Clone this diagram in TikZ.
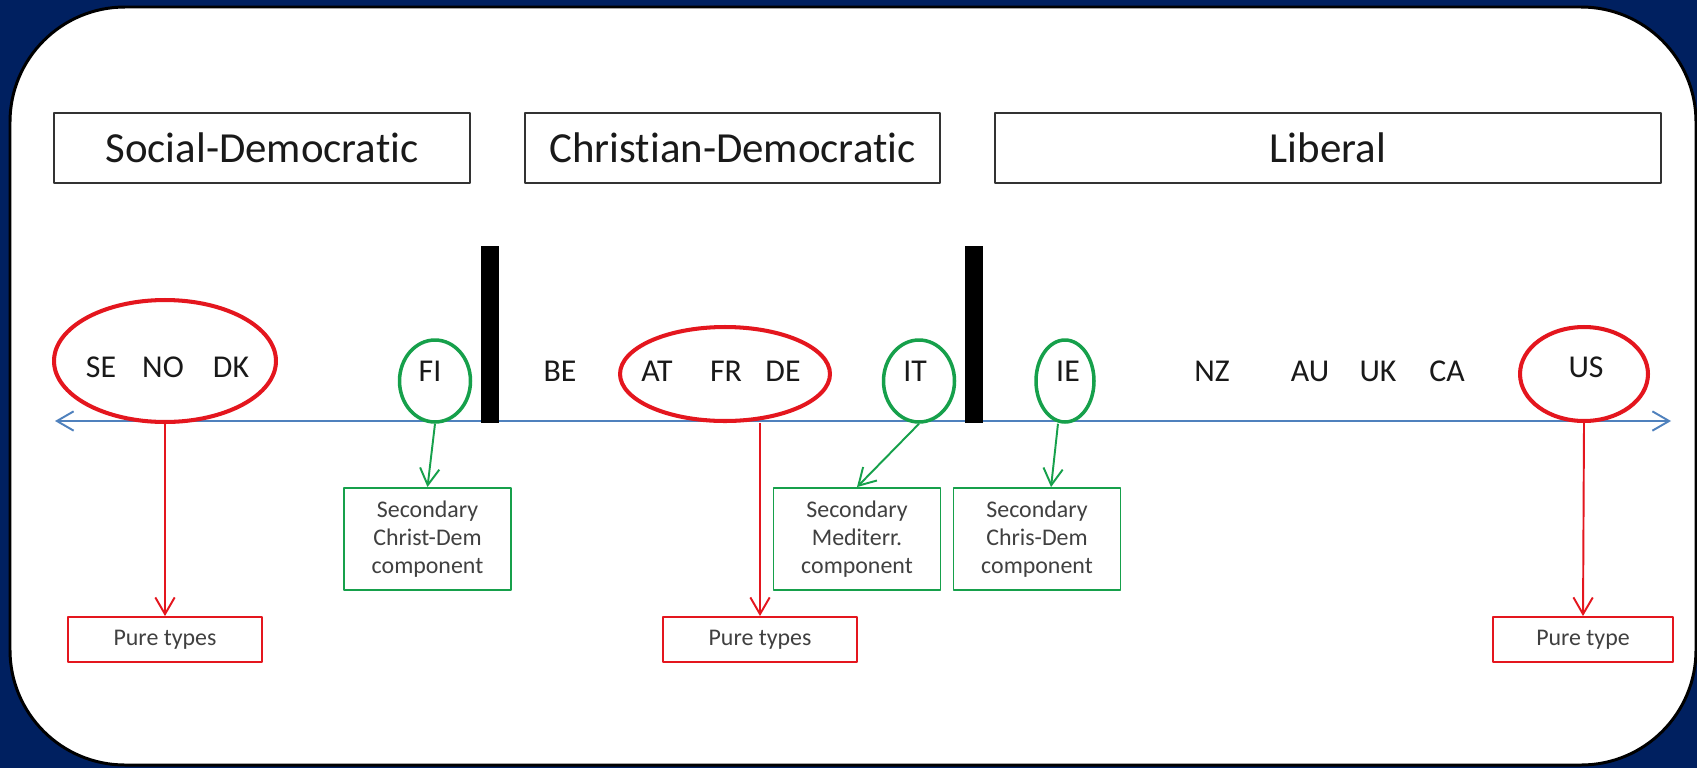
\documentclass[tikz,border=0pt]{standalone}
\usepackage{fontspec}
\setmainfont{Carlito}[Ligatures=NoCommon]
\usepackage{tikz}
\usetikzlibrary{arrows.meta, positioning, shapes.geometric}

\definecolor{navy}{RGB}{0,32,96}
\definecolor{typered}{RGB}{228,22,30}
\definecolor{typegreen}{RGB}{22,160,75}
\definecolor{axisblue}{RGB}{79,129,189}
\definecolor{smalltext}{RGB}{64,64,64}

\newcommand{\headerfont}{\fontsize{24.4}{29}\selectfont}
\newcommand{\countryfont}{\fontsize{18.1}{22}\selectfont}
\newcommand{\smallfont}{\fontsize{13.6}{15.9}\selectfont}

\begin{document}
\begin{tikzpicture}[x=0.02cm, y=-0.02cm, line join=round,
    every node/.style={align=center, font=\countryfont, text=black!90},
    header/.style={draw=black!80, line width=1.1pt, minimum height=1.4cm, font=\headerfont},
    grpring/.style={draw=typered, ellipse, line width=2.3pt, inner sep=0pt},
    solo/.style={draw=typegreen, ellipse, line width=2pt, inner sep=0pt, minimum width=1.42cm, minimum height=1.64cm},
    secbox/.style={draw=typegreen, line width=1.1pt, minimum width=3.34cm, minimum height=2.04cm, font=\smallfont, text=smalltext},
    purebox/.style={draw=typered, line width=1.1pt, minimum width=3.88cm, minimum height=0.9cm, font=\smallfont, text=smalltext},
    divider/.style={fill=black, minimum width=0.36cm, minimum height=3.54cm, inner sep=0pt},
    redarrow/.style={draw=typered, line width=1.1pt, -{Straight Barb[length=9.5pt, width=11pt]}},
    greenarrow/.style={draw=typegreen, line width=1.1pt, -{Straight Barb[length=9.5pt, width=11pt]}},
    axisline/.style={draw=axisblue, line width=1.1pt, {Straight Barb[length=9.5pt, width=11pt]}-{Straight Barb[length=9.5pt, width=11pt]}}]
    \useasboundingbox (0,0) rectangle (1697,768);
    \fill[navy] (0,0) rectangle (1697,768);
    \draw[line width=1.7pt, fill=white, rounded corners=2.3cm] (10,7) rectangle (1696,765);

    \node (social) [header, minimum width=8.32cm] at (262,148) {Social-Democratic};
    \node (christian) [header, minimum width=8.3cm] at (732.5,148) {Christian-Democratic};
    \node (liberal) [header, minimum width=13.32cm] at (1328,148) {Liberal};

    \coordinate (axisL) at (55,421);
    \coordinate (axisR) at (1671,421);
    \draw[axisline] (axisL) -- (axisR);

    \node (nordic) [grpring, minimum width=4.44cm, minimum height=2.44cm] at (165,361) {};
    \node (continental) [grpring, minimum width=4.2cm, minimum height=1.88cm] at (725,374) {};
    \node (usring) [grpring, minimum width=2.56cm, minimum height=1.88cm] at (1584,374) {};
    \node (firing) [solo] at (435,381) {};
    \node (itring) [solo] at (919,381) {};
    \node (iering) [solo, minimum width=1.16cm] at (1065,381) {};
    \node (bar1) [divider] at (490,334.5) {};
    \node (bar2) [divider] at (974,334.5) {};

    \foreach \code/\xpos in {SE/101, NO/163, DK/231, US/1586}
        \node (lab\code) at (\xpos,367) {\code};
    \foreach \code/\xpos in {FI/430, BE/560, AT/657, FR/726, DE/783, IT/915, IE/1068, NZ/1212, AU/1310, UK/1378, CA/1447}
        \node (lab\code) at (\xpos,371) {\code};

    \node (sec1) [secbox] at (427.5,539) {Secondary\\Christ-Dem\\component};
    \node (sec2) [secbox] at (857,539) {Secondary\\Mediterr.\\component};
    \node (sec3) [secbox] at (1037,539) {Secondary\\Chris-Dem\\component};
    \node (pure1) [purebox] at (165,639.5) {Pure types};
    \node (pure2) [purebox] at (760,639.5) {Pure types};
    \node (pure3) [purebox, minimum width=3.6cm] at (1583,639.5) {Pure type};

    \draw[redarrow] (nordic.south) -- (pure1.north);
    \draw[redarrow] (pure2.north |- continental.south) -- (pure2.north);
    \draw[redarrow] (usring.south) -- (pure3.north);
    \draw[greenarrow] (firing.south) -- (sec1.north);
    \draw[greenarrow] (itring.south) -- (sec2.north);
    \draw[greenarrow] ([xshift=-4pt]iering.south) -- ([xshift=8pt]sec3.north);
\end{tikzpicture}
\end{document}
